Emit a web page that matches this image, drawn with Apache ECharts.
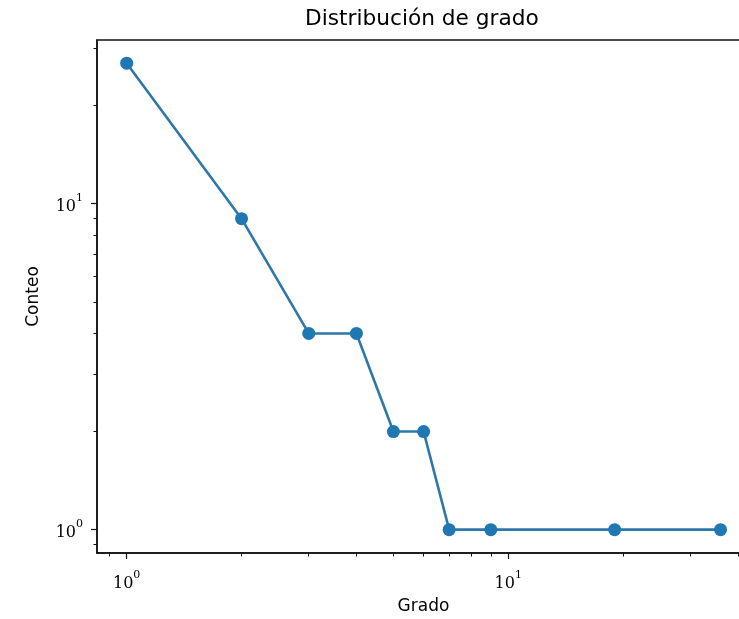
<!DOCTYPE html>
<html>
<head>
<meta charset="utf-8">
<script src="https://cdn.jsdelivr.net/npm/echarts@6/dist/echarts.min.js"></script>
<style>
  html, body { margin: 0; padding: 0; background: #fff; }
  #chart { width: 739px; height: 619px; }
</style>
</head>
<body>
<div id="chart"></div>
<script>
// Data
const grado = [1, 2, 3, 4, 5, 6, 7, 9, 19, 36];
const conteo = [27, 9, 4, 4, 2, 2, 1, 1, 1, 1];
const xMajorTicks = [1, 10];
const yMajorTicks = [1, 10];
const xMinorTicks = [0.9, 2, 3, 4, 5, 6, 7, 8, 9, 20, 30, 40];
const yMinorTicks = [0.9, 2, 3, 4, 5, 6, 7, 8, 9, 20, 30];
const titleText = 'Distribución de grado';
const xName = 'Grado';
const yName = 'Conteo';

const X_MIN = 0.836, X_MAX = 43;
const Y_MIN = 0.848, Y_MAX = 31.8;

const gridPos = { left: 97, right: -11, top: 40, bottom: 66, containLabel: false, outerBoundsMode: 'none' };

const supFormatter = v => '{b|10}{s|' + Math.round(Math.log10(v)) + '}';
const richLabel = {
  b: { fontFamily: 'DejaVu Serif', fontSize: 16, color: '#000', lineHeight: 22, verticalAlign: 'bottom' },
  s: { fontFamily: 'DejaVu Serif', fontSize: 11, color: '#000', lineHeight: 11, verticalAlign: 'top' }
};

const chart = echarts.init(document.getElementById('chart'));
chart.setOption({
  animation: false,
  backgroundColor: '#fff',
  title: {
    text: titleText,
    left: 305, top: 8, padding: 0,
    textStyle: { fontFamily: 'DejaVu Sans', fontSize: 21.7, fontWeight: 'normal', color: '#000' }
  },
  grid: [
    Object.assign({ show: true, borderColor: '#111', borderWidth: 1.5, backgroundColor: 'transparent' }, gridPos),
    Object.assign({ show: false }, gridPos)
  ],
  xAxis: [
    {
      gridIndex: 0, type: 'log', logBase: 10, min: X_MIN, max: X_MAX,
      name: xName, nameLocation: 'middle', nameGap: 45,
      nameTextStyle: { fontFamily: 'DejaVu Sans', fontSize: 17, color: '#000' },
      axisLine: { show: true, lineStyle: { color: '#111', width: 1.5 } },
      axisTick: { show: true, inside: false, length: 6, lineStyle: { color: '#111', width: 1.2 }, customValues: xMajorTicks },
      axisLabel: { show: true, margin: 17, formatter: supFormatter, rich: richLabel, customValues: xMajorTicks },
      splitLine: { show: false }, minorTick: { show: false }
    },
    {
      gridIndex: 1, type: 'log', logBase: 10, min: X_MIN, max: X_MAX,
      axisLine: { show: false },
      axisTick: { show: true, inside: false, length: 3.5, lineStyle: { color: '#111', width: 1 }, customValues: xMinorTicks },
      axisLabel: { show: false },
      splitLine: { show: false }
    }
  ],
  yAxis: [
    {
      gridIndex: 0, type: 'log', logBase: 10, min: Y_MIN, max: Y_MAX,
      name: yName, nameLocation: 'middle', nameGap: 55,
      nameTextStyle: { fontFamily: 'DejaVu Sans', fontSize: 17, color: '#000' },
      axisLine: { show: true, lineStyle: { color: '#111', width: 1.5 } },
      axisTick: { show: true, inside: false, length: 6, lineStyle: { color: '#111', width: 1.2 }, customValues: yMajorTicks },
      axisLabel: { show: true, margin: 14, formatter: supFormatter, rich: richLabel, customValues: yMajorTicks },
      splitLine: { show: false }, minorTick: { show: false }
    },
    {
      gridIndex: 1, type: 'log', logBase: 10, min: Y_MIN, max: Y_MAX,
      axisLine: { show: false },
      axisTick: { show: true, inside: false, length: 3.5, lineStyle: { color: '#111', width: 1 }, customValues: yMinorTicks },
      axisLabel: { show: false },
      splitLine: { show: false }
    }
  ],
  series: [{
    type: 'line',
    xAxisIndex: 0, yAxisIndex: 0,
    data: grado.map((g, i) => [g, conteo[i]]),
    symbol: 'circle', symbolSize: 13,
    itemStyle: { color: '#1f77b4' },
    lineStyle: { color: '#2f77a8', width: 2.6 },
    clip: false
  }]
});
</script>
</body>
</html>
